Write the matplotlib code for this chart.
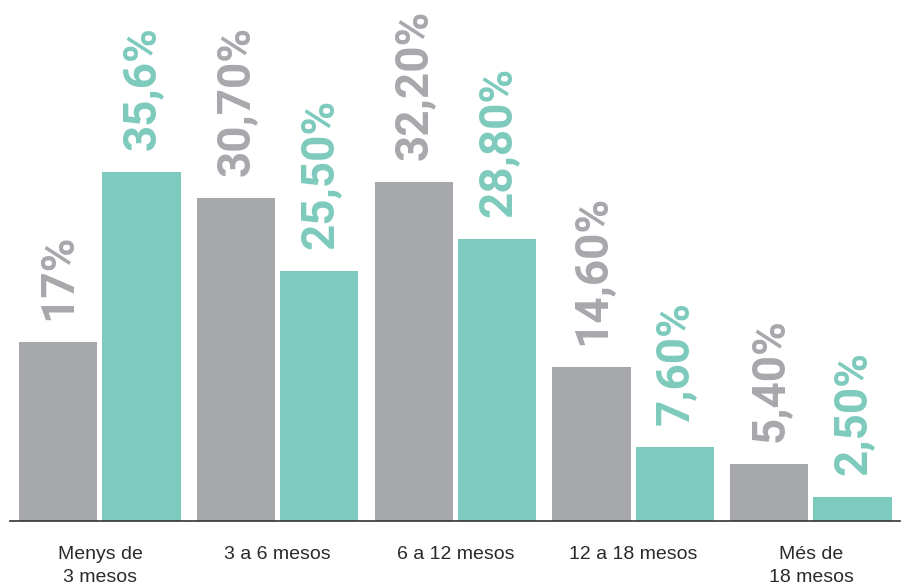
import numpy as np
import matplotlib.pyplot as plt

# Dades
categories = ['Menys de\n3 mesos', '3 a 6 mesos', '6 a 12 mesos', '12 a 18 mesos', 'Més de\n18 mesos']
serie_gris = [17.0, 30.7, 32.2, 14.6, 5.4]
serie_verd = [35.6, 25.5, 28.8, 7.6, 2.5]
etiq_gris = ['17%', '30,70%', '32,20%', '14,60%', '5,40%']
etiq_verd = ['35,6%', '25,50%', '28,80%', '7,60%', '2,50%']

color_gris = '#a7a8ac'
color_verd = '#7dcbbe'

W, H = 908, 585
fig = plt.figure(figsize=(W / 100, H / 100), dpi=100)
ax = fig.add_axes([10 / W, (H - 521) / H, 890 / W, 521 / H])
ax2 = ax.twinx()

x = np.arange(len(categories))
amplada = 0.44
despl = 0.234

barres_g = ax.bar(x - despl, serie_gris, amplada, color=color_gris, zorder=2)
barres_v = ax2.bar(x + despl, serie_verd, amplada, color=color_verd, zorder=2)

ax.set_xlim(-0.506, 4.501)
ax.set_ylim(0, 49.5)
ax2.set_ylim(0, 53.2)

for barres, etiq, col, eix in [(barres_g, etiq_gris, color_gris, ax),
                                (barres_v, etiq_verd, color_verd, ax2)]:
    for b, t in zip(barres, etiq):
        eix.annotate(t, (b.get_x() + b.get_width() / 2, b.get_height()),
                     xytext=(0, 22), textcoords='offset pixels',
                     rotation=90, ha='center', va='bottom',
                     fontsize=33, fontweight='bold', family='Roboto', color=col)

ax.set_xticks(x)
ax.set_xticklabels(categories, fontsize=14, family='Liberation Sans',
                   color='#2a2a2a', linespacing=1.45)
ax.tick_params(axis='x', length=0, pad=18)
ax.set_yticks([])
ax2.set_yticks([])

for eix in (ax, ax2):
    for s in ['top', 'left', 'right', 'bottom']:
        eix.spines[s].set_visible(False)
ax2.spines['bottom'].set_visible(True)
ax2.spines['bottom'].set_color('#333333')
ax2.spines['bottom'].set_linewidth(1.2)
ax2.spines['bottom'].set_zorder(5)

fig.savefig('out.png', dpi=100)
